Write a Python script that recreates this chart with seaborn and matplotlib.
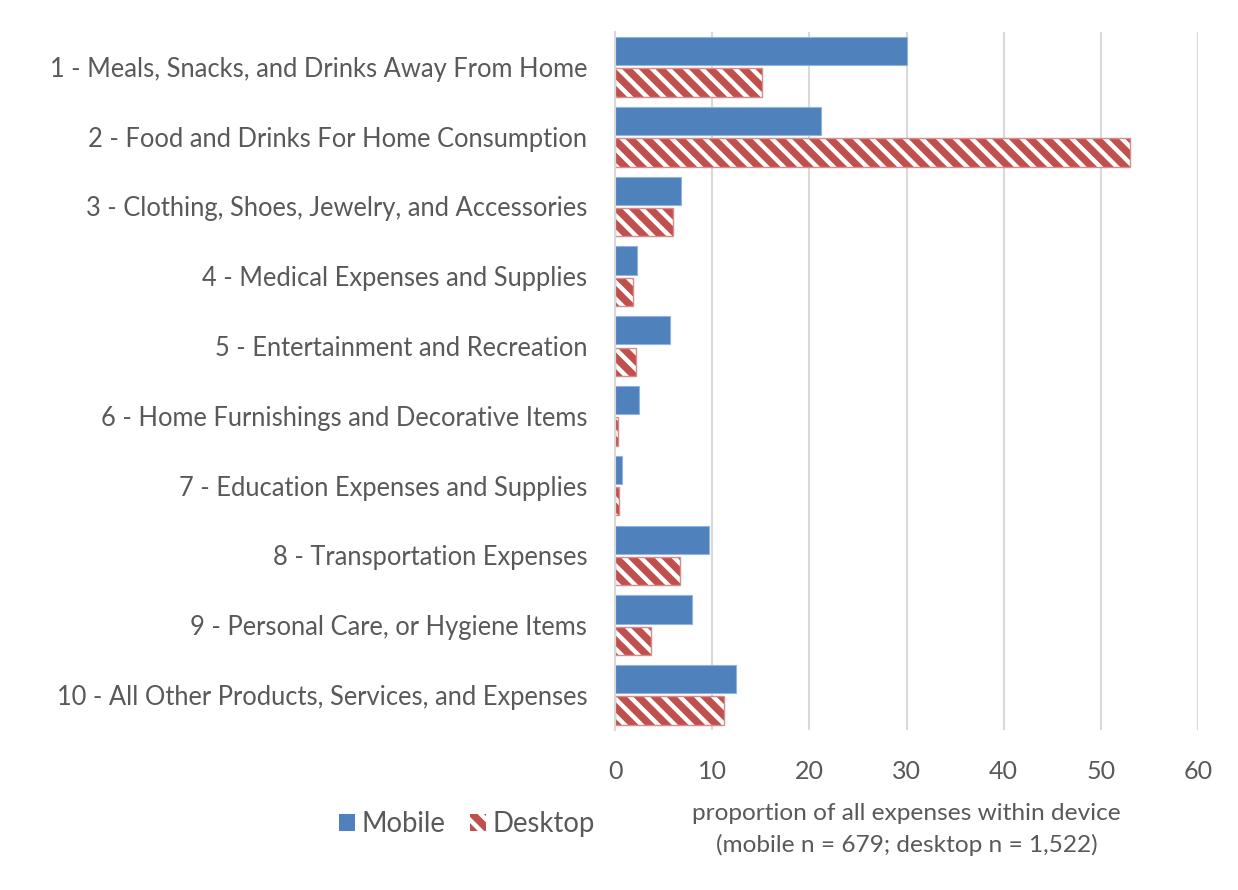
import matplotlib
matplotlib.use("Agg")
import matplotlib.pyplot as plt
from matplotlib.patches import Patch, Rectangle
import pandas as pd
import seaborn as sns

categories = [
    "1 - Meals, Snacks, and Drinks Away From Home",
    "2 - Food and Drinks For Home Consumption",
    "3 - Clothing, Shoes, Jewelry, and Accessories",
    "4 - Medical Expenses and Supplies",
    "5 - Entertainment and Recreation",
    "6 - Home Furnishings and Decorative Items",
    "7 - Education Expenses and Supplies",
    "8 - Transportation Expenses",
    "9 - Personal Care, or Hygiene Items",
    "10 - All Other Products, Services, and Expenses",
]
mobile = [30.0, 21.2, 6.8, 2.3, 5.7, 2.5, 0.7, 9.7, 7.9, 12.5]
desktop = [15.1, 53.0, 6.0, 1.9, 2.2, 0.3, 0.4, 6.7, 3.7, 11.2]
devices = ["Mobile", "Desktop"]
x_ticks = [0, 10, 20, 30, 40, 50, 60]
x_label = "proportion of all expenses within device\n(mobile n = 679; desktop n = 1,522)"

BLUE = "#4F81BD"
RED = "#C0504D"
TEXT = "#595959"
GRID = "#D9D9D9"

sns.set_theme(style="white")
plt.rcParams["font.family"] = ["Lato", "DejaVu Sans"]
plt.rcParams["hatch.linewidth"] = 3.2

df = pd.DataFrame({
    "category": categories * 2,
    "device": [devices[0]] * len(categories) + [devices[1]] * len(categories),
    "value": mobile + desktop,
})

fig = plt.figure(figsize=(12.38, 8.90), dpi=100)
ax = fig.add_axes([0.4968, 0.180, 0.4709, 0.784])

sns.barplot(
    data=df, x="value", y="category", hue="device", hue_order=devices,
    order=categories, palette=[BLUE, RED], orient="h",
    width=0.9, gap=0.1, errorbar=None, legend=False, ax=ax,
    saturation=1,
)

# style the two series: plain blue, red with white diagonal stripes
mob_bars, desk_bars = ax.containers[0], ax.containers[1]
for p in mob_bars:
    p.set_edgecolor("#8EB4E3")
    p.set_linewidth(0.8)
for p in desk_bars:
    p.set_hatch("\\\\")
    p.set_edgecolor("white")
    p.set_linewidth(0)
    ax.add_patch(Rectangle((p.get_x(), p.get_y()), p.get_width(), p.get_height(),
                           fill=False, edgecolor="#D98B89", linewidth=1.0, zorder=p.get_zorder() + 0.1))

ax.set_xlim(0, 60)
ax.set_xticks(x_ticks)
ax.set_xticklabels([str(t) for t in x_ticks])
ax.xaxis.grid(True, color=GRID, linewidth=1.5)
ax.set_axisbelow(True)
for side in ["top", "right", "bottom"]:
    ax.spines[side].set_visible(False)
ax.spines["left"].set_color(GRID)
ax.spines["left"].set_linewidth(1.5)

ax.tick_params(axis="y", length=0, pad=20, labelsize=18.4, labelcolor=TEXT)
ax.tick_params(axis="x", length=0, pad=22, labelsize=18, labelcolor=TEXT)
ax.set_ylabel("")
ax.set_xlabel(x_label, fontsize=17.6, color=TEXT, labelpad=14, linespacing=1.55)

handles = [
    Patch(facecolor=BLUE, edgecolor=BLUE, linewidth=0),
    Patch(facecolor=RED, edgecolor="white", hatch="\\\\", linewidth=0),
]
fig.legend(handles=handles, labels=devices, loc="center left",
           bbox_to_anchor=(314 / 1238, 1 - 824 / 890), ncol=2, frameon=False,
           handlelength=0.6, handleheight=0.6, handletextpad=0.22,
           columnspacing=0.9, fontsize=19.8, labelcolor=TEXT)

fig.savefig("out.png", dpi=100)
